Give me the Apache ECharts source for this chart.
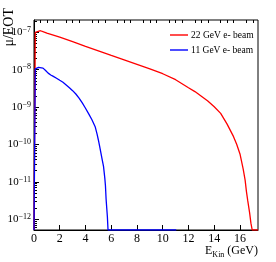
<!DOCTYPE html>
<html><head><meta charset="utf-8">
<script src="https://cdn.jsdelivr.net/npm/echarts@6/dist/echarts.min.js"></script>
<style>html,body{margin:0;padding:0;background:#fff}#c{width:276px;height:262px}</style>
</head><body><div id="c"></div>
<script>
// ---- data (zero bins = 0, drawn at the bottom of the frame like ROOT) ----
const redName = '22 GeV e- beam';
const redE = [0, 0.1, 0.25, 0.5, 0.75, 1, 2, 3, 4, 5, 6, 7, 8, 9, 10, 11, 12, 12.5, 13, 13.5, 14, 14.5, 15, 15.5, 15.75, 16, 16.25, 16.4, 16.5, 16.6, 16.75, 16.85, 16.95, 17.4];
const redV = [0, 1.0e-7, 1.1e-7, 1.1e-7, 1.02e-7, 9.5e-8, 7.4e-8, 5.6e-8, 4.2e-8, 3.2e-8, 2.4e-8, 1.82e-8, 1.38e-8, 1.05e-8, 7.8e-9, 5.4e-9, 3.3e-9, 2.6e-9, 1.95e-9, 1.45e-9, 1.02e-9, 6.8e-10, 3.5e-10, 1.62e-10, 1.0e-10, 5.6e-11, 2.2e-11, 1.12e-11, 5.6e-12, 3.2e-12, 1.48e-12, 7.9e-13, 0, 0];
const blueName = '11 GeV e- beam';
const blueE = [0, 0.1, 0.2, 0.35, 0.5, 0.7, 0.9, 1.1, 1.3, 1.5, 1.75, 2.0, 2.25, 2.5, 2.75, 3.0, 3.25, 3.5, 3.75, 4.0, 4.25, 4.5, 4.75, 4.9, 5.0, 5.1, 5.2, 5.3, 5.4, 5.5, 5.55, 5.6, 5.65, 5.7, 5.75, 11.05];
const blueV = [0, 1.05e-8, 1.12e-8, 1.15e-8, 1.15e-8, 1.1e-8, 9.5e-9, 8.1e-9, 7.2e-9, 6.6e-9, 5.9e-9, 5.2e-9, 4.6e-9, 3.9e-9, 3.3e-9, 2.75e-9, 2.24e-9, 1.74e-9, 1.29e-9, 9.3e-10, 6.6e-10, 4.6e-10, 3.0e-10, 1.9e-10, 1.32e-10, 8.9e-11, 5.9e-11, 3.9e-11, 2.6e-11, 1.26e-11, 7.9e-12, 3.5e-12, 2.0e-12, 1.17e-12, 0, 0];

// ---- axes ----
const xMin = 0, xMax = 17.4;
const xTicks = [0, 2, 4, 6, 8, 10, 12, 14, 16];
const xMinorTicks = [0.5, 1, 1.5, 2.5, 3, 3.5, 4.5, 5, 5.5, 6.5, 7, 7.5, 8.5, 9, 9.5, 10.5, 11, 11.5, 12.5, 13, 13.5, 14.5, 15, 15.5, 16.5, 17];
const yMin = 5.18e-13, yMax = 2.13e-7;
const yTicks = [1e-12, 1e-11, 1e-10, 1e-9, 1e-8, 1e-7];
const yMinorTicks = [];
for (let e = -13; e <= -7; e++) for (let k = 2; k <= 9; k++) {
  const v = k * Math.pow(10, e);
  if (v > yMin && v < yMax) yMinorTicks.push(v);
}

const FONT = '"Liberation Serif", "Times New Roman", serif';
const toPairs = (xs, vs) => xs.map((x, i) => [x, vs[i] > 0 ? vs[i] : yMin]);

const chart = echarts.init(document.getElementById('c'), null, {renderer: 'canvas'});
const baseX = {type: 'value', min: xMin, max: xMax, splitLine: {show: false}};
const baseY = {type: 'log', logBase: 10, min: yMin, max: yMax, splitLine: {show: false}};
chart.setOption({
  animation: false,
  backgroundColor: '#fff',
  grid: {left: 34, top: 20, width: 224, height: 210, show: true, borderColor: '#000', borderWidth: 1, backgroundColor: 'transparent'},
  legend: {
    left: 170, top: 30, padding: 0, orient: 'vertical', icon: 'rect', itemWidth: 18, itemHeight: 1.4, itemGap: 5,
    textStyle: {fontFamily: FONT, fontSize: 9.5, color: '#000', padding: [0, 0, 0, -2]},
    data: [redName, blueName]
  },
  xAxis: [
    Object.assign({}, baseX, {
      axisLine: {lineStyle: {color: '#000', width: 1}},
      axisTick: {inside: true, length: 5, customValues: xTicks, lineStyle: {color: '#000'}},
      axisLabel: {customValues: xTicks, margin: 3, fontFamily: FONT, fontSize: 12, color: '#000'}
    }),
    Object.assign({}, baseX, {
      axisLine: {show: false},
      axisTick: {inside: true, length: 3, customValues: xMinorTicks, lineStyle: {color: '#000'}},
      axisLabel: {show: false}
    })
  ],
  yAxis: [
    Object.assign({}, baseY, {
      axisLine: {lineStyle: {color: '#000', width: 1}},
      axisTick: {inside: true, length: 5, customValues: yTicks, lineStyle: {color: '#000'}},
      axisLabel: {
        customValues: yTicks, margin: 3, color: '#000',
        formatter: v => '{b|10}{s|\u2212' + Math.abs(Math.round(Math.log10(v))) + '}',
        rich: {
          b: {fontFamily: FONT, fontSize: 11, lineHeight: 13, color: '#000'},
          s: {fontFamily: FONT, fontSize: 8, lineHeight: 8, verticalAlign: 'top', color: '#000'}
        }
      }
    }),
    Object.assign({}, baseY, {
      position: 'left',
      axisLine: {show: false},
      axisTick: {inside: true, length: 3, customValues: yMinorTicks, lineStyle: {color: '#000'}},
      axisLabel: {show: false}
    })
  ],
  graphic: [
    {type: 'text', x: 9, y: 8, rotation: Math.PI / 2,
     style: {text: '\u03bc/EOT', align: 'right', verticalAlign: 'middle', font: '14px ' + FONT, fill: '#000'}},
    {type: 'text', right: 18, top: 245,
     style: {text: '{e|E}{k|Kin}{e| (GeV)}', fill: '#000',
       rich: {e: {fontFamily: FONT, fontSize: 12, lineHeight: 12, verticalAlign: 'top'},
              k: {fontFamily: FONT, fontSize: 8, lineHeight: 14, verticalAlign: 'bottom'}}}}
  ],
  series: [
    {name: redName, type: 'line', xAxisIndex: 0, yAxisIndex: 0, showSymbol: false, symbol: 'none',
     lineStyle: {color: '#ff0000', width: 1.3}, itemStyle: {color: '#ff0000'}, data: toPairs(redE, redV)},
    {name: blueName, type: 'line', xAxisIndex: 0, yAxisIndex: 0, showSymbol: false, symbol: 'none',
     lineStyle: {color: '#0000ff', width: 1.3}, itemStyle: {color: '#0000ff'}, data: toPairs(blueE, blueV)}
  ]
});
</script></body></html>
